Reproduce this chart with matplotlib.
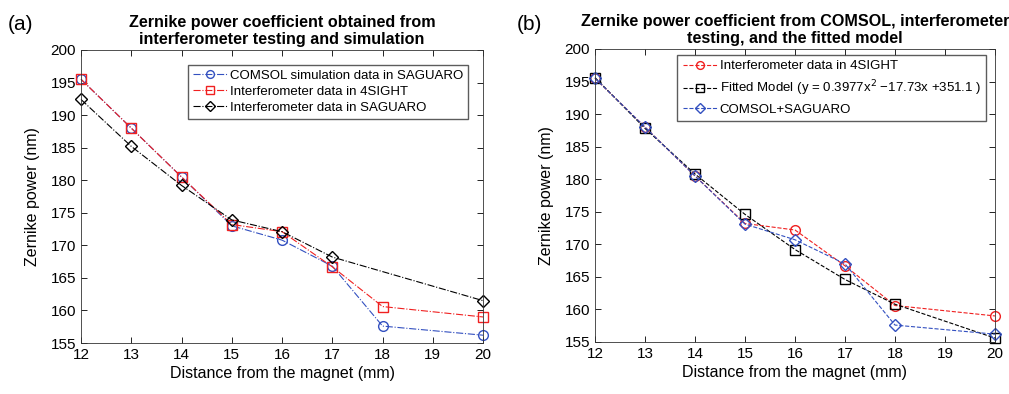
import matplotlib.pyplot as plt

plt.rcParams['font.family'] = ['Liberation Sans', 'DejaVu Sans']

x = [12, 13, 14, 15, 16, 17, 18, 20]
x_sag = [12, 13, 14, 15, 16, 17, 20]

# panel (a)
comsol_a = [195.5, 188.0, 180.5, 173.0, 170.8, 166.8, 157.6, 156.2]
sight_a = [195.5, 188.0, 180.5, 173.2, 172.1, 166.7, 160.6, 159.0]
saguaro_a = [192.4, 185.2, 179.2, 173.9, 172.1, 168.2, 161.5]

# panel (b)
sight_b = [195.5, 188.0, 180.5, 173.2, 172.2, 166.7, 160.6, 159.0]
fitted_b = [195.6, 187.8, 180.8, 174.6, 169.2, 164.6, 160.8, 155.6]
comsag_b = [195.5, 188.0, 180.5, 173.1, 170.7, 167.0, 157.6, 156.2]

blue = '#3350c0'
red = '#f02020'

fig = plt.figure(figsize=(10.09, 3.94), dpi=100)
ax1 = fig.add_axes([0.0803, 0.1294, 0.3985, 0.7437])
ax2 = fig.add_axes([0.5897, 0.1320, 0.3964, 0.7437])

ms = 7
lw = 0.8
ax1.plot(x, comsol_a, '-.', color=blue, marker='o', mfc='none', ms=ms, lw=lw, clip_on=False,
         label='COMSOL simulation data in SAGUARO')
ax1.plot(x, sight_a, '-.', color=red, marker='s', mfc='none', ms=ms, lw=lw, clip_on=False,
         label='Interferometer data in 4SIGHT')
ax1.plot(x_sag, saguaro_a, '-.', color='black', marker='D', mfc='none', ms=6.5, lw=lw, clip_on=False,
         label='Interferometer data in SAGUARO')
ax1.set_title('Zernike power coefficient obtained from\ninterferometer testing and simulation',
              fontweight='bold', fontsize=11.6, linespacing=1.2, pad=4)

ax2.plot(x, sight_b, '--', color=red, marker='o', mfc='none', ms=ms, lw=lw, clip_on=False,
         label='Interferometer data in 4SIGHT')
ax2.plot(x, fitted_b, '--', color='black', marker='s', mfc='none', ms=ms, lw=lw, clip_on=False,
         label='Fitted Model (y = 0.3977x$^{2}$ \u221217.73x +351.1 )')
ax2.plot(x, comsag_b, '--', color=blue, marker='D', mfc='none', ms=6.5, lw=lw, clip_on=False,
         label='COMSOL+SAGUARO')
ax2.set_title('Zernike power coefficient from COMSOL, interferometer\ntesting, and the fitted model',
              fontweight='bold', fontsize=11.6, linespacing=1.2, pad=4)

for ax in (ax1, ax2):
    ax.set_xlim(12, 20)
    ax.set_ylim(155, 200)
    ax.set_xticks(range(12, 21))
    ax.set_yticks(range(155, 201, 5))
    ax.tick_params(direction='in', top=True, right=True, labelsize=11, length=4, width=0.6)
    for s in ax.spines.values():
        s.set_linewidth(0.6)
        s.set_color('#333333')
    ax.set_xlabel('Distance from the magnet (mm)', fontsize=11.5, labelpad=3)
    ax.set_ylabel('Zernike power (nm)', fontsize=11.5, labelpad=8)

ax1.legend(loc='upper right', fontsize=9.5, frameon=True, fancybox=False, edgecolor='#333333',
           handlelength=2.6, borderpad=0.35, labelspacing=0.3, handletextpad=0.2,
           borderaxespad=0.0, markerscale=0.8, bbox_to_anchor=(0.962, 0.95))
ax2.legend(loc='upper right', fontsize=9.5, frameon=True, fancybox=False, edgecolor='#333333',
           handlelength=2.6, borderpad=0.4, labelspacing=0.45, handletextpad=0.2,
           borderaxespad=0.0, markerscale=0.8, bbox_to_anchor=(0.978, 0.98))

fig.text(0.008, 0.925, '(a)', fontsize=15)
fig.text(0.512, 0.925, '(b)', fontsize=15)

fig.savefig('out.png', dpi=100)
